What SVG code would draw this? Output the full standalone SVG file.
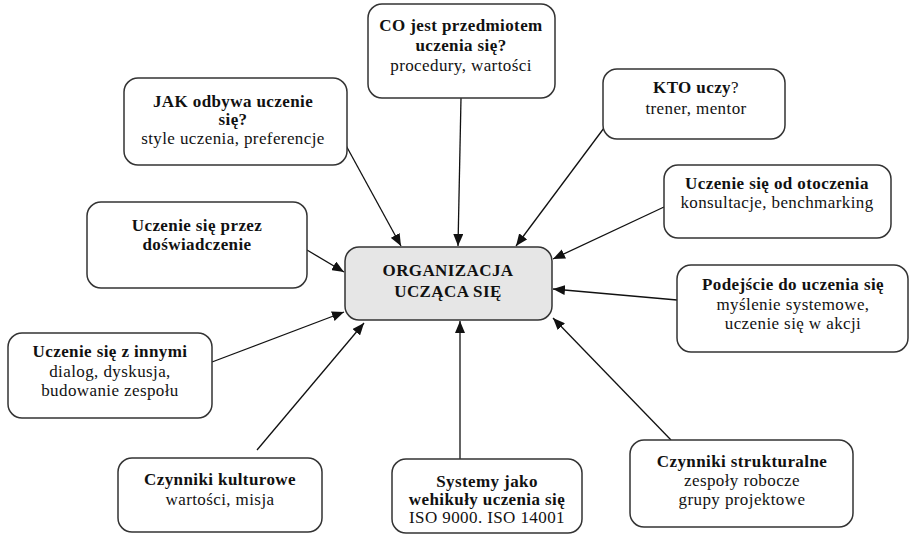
<svg xmlns="http://www.w3.org/2000/svg" width="911" height="535" viewBox="0 0 911 535">
<style>
.box{fill:#fff;stroke:#333;stroke-width:1.5}
.ctr{fill:#e6e6e6;stroke:#333;stroke-width:1.5}
text{font-family:'Liberation Serif','DejaVu Serif',serif;font-size:17px;letter-spacing:0.4px;fill:#111;text-anchor:middle}
.b{font-weight:bold}
.conn line{stroke:#111;stroke-width:1.3;marker-end:url(#ah)}
</style>
<defs>
<marker id="ah" markerUnits="userSpaceOnUse" markerWidth="12" markerHeight="10" refX="12" refY="5" orient="auto">
<path d="M0,0 L12,5 L0,10 z" fill="#111"/>
</marker>
</defs>
<rect width="911" height="535" fill="#fff"/>
<g class="conn">
<line x1="343" y1="140" x2="401" y2="246"/>
<line x1="461" y1="98" x2="458" y2="246"/>
<line x1="604" y1="128" x2="516" y2="246"/>
<line x1="664" y1="207" x2="553" y2="259"/>
<line x1="307" y1="250" x2="344" y2="272"/>
<line x1="677" y1="300" x2="553" y2="289"/>
<line x1="212" y1="362" x2="344" y2="312"/>
<line x1="257" y1="450" x2="364" y2="323"/>
<line x1="460" y1="459" x2="460" y2="321"/>
<line x1="671" y1="440" x2="553" y2="318"/>
</g>
<g font-family="Liberation Serif, serif">
<g id="center">
<rect class="ctr" x="345" y="247" width="207" height="73" rx="14"/>
<text class="b" x="448" y="276">ORGANIZACJA</text>
<text class="b" x="448" y="297">UCZĄCA SIĘ</text>
</g>
<g id="co">
<rect class="box" x="368" y="4" width="187" height="94" rx="14"/>
<text class="b" x="461" y="31">CO jest przedmiotem</text>
<text class="b" x="461" y="51">uczenia się?</text>
<text x="461" y="71">procedury, wartości</text>
</g>
<g id="jak">
<rect class="box" x="124" y="78" width="223" height="87" rx="14"/>
<text class="b" x="233" y="107">JAK odbywa uczenie</text>
<text class="b" x="233" y="125">się?</text>
<text x="233" y="144">style uczenia, preferencje</text>
</g>
<g id="kto">
<rect class="box" x="603" y="69" width="182" height="70" rx="14"/>
<text x="696" y="93"><tspan class="b">KTO uczy</tspan>?</text>
<text x="696" y="114">trener, mentor</text>
</g>
<g id="otoczenie">
<rect class="box" x="664" y="165" width="227" height="73" rx="14"/>
<text class="b" x="777" y="189">Uczenie się od otoczenia</text>
<text x="777" y="208">konsultacje, benchmarking</text>
</g>
<g id="doswiadczenie">
<rect class="box" x="87" y="202" width="220" height="86" rx="14"/>
<text class="b" x="197" y="231">Uczenie się przez</text>
<text class="b" x="197" y="250">doświadczenie</text>
</g>
<g id="podejscie">
<rect class="box" x="677" y="265" width="231" height="87" rx="14"/>
<text class="b" x="793" y="290">Podejście do uczenia się</text>
<text x="793" y="310">myślenie systemowe,</text>
<text x="793" y="329">uczenie się w akcji</text>
</g>
<g id="innymi">
<rect class="box" x="8" y="333" width="204" height="85" rx="14"/>
<text class="b" x="110" y="357">Uczenie się z innymi</text>
<text x="110" y="377">dialog, dyskusja,</text>
<text x="110" y="396">budowanie zespołu</text>
</g>
<g id="kulturowe">
<rect class="box" x="118" y="458" width="204" height="74" rx="14"/>
<text class="b" x="220" y="485">Czynniki kulturowe</text>
<text x="220" y="505">wartości, misja</text>
</g>
<g id="systemy">
<rect class="box" x="392" y="459" width="190" height="74" rx="14"/>
<text class="b" x="487" y="487">Systemy jako</text>
<text class="b" x="487" y="505">wehikuły uczenia się</text>
<text x="487" y="523">ISO 9000. ISO 14001</text>
</g>
<g id="strukturalne">
<rect class="box" x="630" y="440" width="223" height="87" rx="14"/>
<text class="b" x="742" y="467">Czynniki strukturalne</text>
<text x="742" y="486">zespoły robocze</text>
<text x="742" y="505">grupy projektowe</text>
</g>
</g>
</svg>
